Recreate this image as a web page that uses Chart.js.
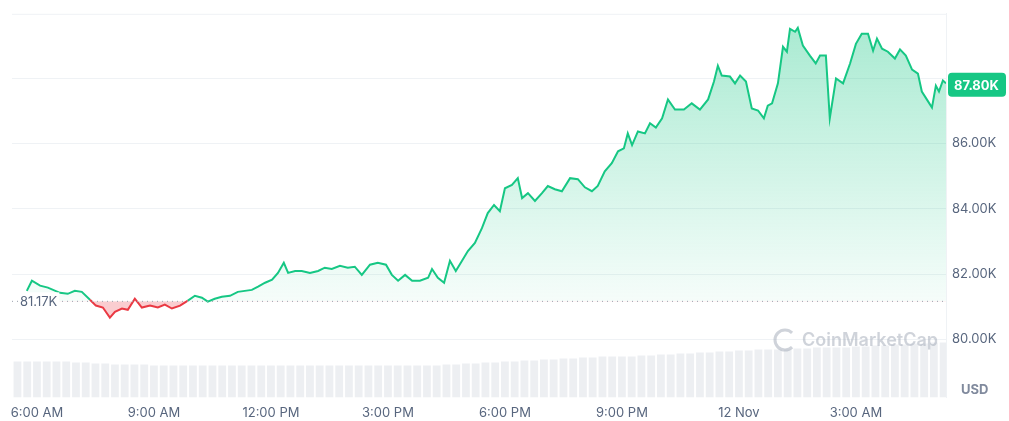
<!DOCTYPE html>
<html>
<head>
<meta charset="utf-8">
<script src="https://cdn.jsdelivr.net/npm/chart.js@4"></script>
<style>
  html, body { margin: 0; padding: 0; background: #fff; }
  #wrap { width: 1009px; height: 421px; position: relative; }
</style>
</head>
<body>
<div id="wrap"><canvas id="chart"></canvas></div>
<script>
// Hours since 6:00 AM
const hours = [-0.26, -0.13, 0.08, 0.28, 0.59, 0.79, 0.97, 1.15, 1.36, 1.51, 1.69, 1.87, 2.00, 2.18, 2.33, 2.51, 2.69, 2.90, 3.10, 3.28,
  3.46, 3.67, 3.87, 4.05, 4.23, 4.38, 4.56, 4.74, 4.95, 5.15, 5.33, 5.51, 5.67, 5.85, 6.03, 6.18, 6.33, 6.44, 6.62, 6.79,
  7.00, 7.21, 7.38, 7.56, 7.77, 7.97, 8.15, 8.33, 8.54, 8.74, 8.95, 9.10, 9.26, 9.44, 9.62, 9.82, 10.03, 10.13, 10.28, 10.44,
  10.59, 10.74, 10.90, 11.05, 11.23, 11.41, 11.56, 11.72, 11.87, 12.00, 12.18, 12.33, 12.44, 12.59, 12.77, 12.95, 13.10, 13.28, 13.46, 13.67,
  13.87, 14.05, 14.23, 14.38, 14.56, 14.74, 14.90, 15.05, 15.15, 15.26, 15.41, 15.59, 15.72, 15.87, 16.03, 16.18, 16.36, 16.59, 16.79, 17.00,
  17.21, 17.36, 17.46, 17.56, 17.77, 17.90, 18.03, 18.18, 18.33, 18.49, 18.64, 18.74, 18.85, 19.00, 19.13, 19.23, 19.31, 19.44, 19.51, 19.64,
  19.82, 19.97, 20.08, 20.23, 20.33, 20.49, 20.67, 20.85, 21.00, 21.15, 21.31, 21.44, 21.54, 21.67, 21.82, 22.00, 22.13, 22.28, 22.44, 22.59,
  22.69, 22.85, 22.95, 23.05, 23.13, 23.23, 23.31]

// Price in thousands USD
const prices = [81.49, 81.80, 81.65, 81.59, 81.43, 81.40, 81.49, 81.46, 81.22, 81.04, 80.98, 80.67, 80.85, 80.95, 80.91, 81.25, 80.98, 81.04, 80.98, 81.07,
  80.95, 81.04, 81.19, 81.34, 81.28, 81.16, 81.25, 81.31, 81.34, 81.46, 81.49, 81.52, 81.62, 81.74, 81.83, 82.04, 82.35, 82.04, 82.10, 82.10,
  82.04, 82.10, 82.20, 82.16, 82.26, 82.20, 82.23, 81.98, 82.29, 82.35, 82.29, 81.98, 81.80, 81.98, 81.80, 81.80, 81.89, 82.16, 81.89, 81.74,
  82.41, 82.10, 82.41, 82.71, 82.96, 83.41, 83.87, 84.12, 83.93, 84.63, 84.73, 84.94, 84.33, 84.48, 84.24, 84.48, 84.70, 84.60, 84.54, 84.94,
  84.91, 84.66, 84.54, 84.70, 85.15, 85.40, 85.76, 85.85, 86.31, 85.95, 86.37, 86.31, 86.62, 86.49, 86.77, 87.35, 87.04, 87.04, 87.23, 87.04,
  87.35, 87.90, 88.38, 88.08, 88.05, 87.84, 88.08, 87.90, 87.07, 87.01, 86.77, 87.16, 87.23, 87.84, 88.96, 88.81, 89.51, 89.42, 89.54, 89.00,
  88.69, 88.45, 88.69, 88.69, 86.77, 87.99, 87.84, 88.45, 89.05, 89.36, 89.36, 88.84, 89.21, 88.90, 88.81, 88.60, 88.88, 88.69, 88.26, 88.14,
  87.59, 87.29, 87.10, 87.77, 87.59, 87.93, 87.84]

// Volume, one bar per quarter hour
const volumeHours = []
for (let h = -0.5; h <= 23.3; h += 0.25) volumeHours.push(+h.toFixed(2))
const volumeLevels = [36, 36, 36, 35, 34, 33, 33, 32, 32, 32, 32, 32, 32, 32, 32, 32, 32, 32, 32, 32, 32,
  32, 33, 34, 35, 36, 37, 38, 39, 40, 41, 41, 42, 43, 44, 45, 46, 47, 48, 48, 49,
  50, 50, 51, 52, 53, 54, 55, 55]
// two quarter-hour bars share each half-hour level
const volumes = volumeHours.map((_, i) => volumeLevels[Math.min(volumeLevels.length - 1, Math.floor(i / 2))])

const baseline = 81.17
const lastPrice = 87.80
const tickLabels = ['6:00 AM', '9:00 AM', '12:00 PM', '3:00 PM', '6:00 PM', '9:00 PM', '12 Nov', '3:00 AM']
const priceTicks = [80, 82, 84, 86, 88]

const green = '#16c784'
const red = '#ea3943'

const pricePoints = hours.map((h, i) => ({ x: h, y: prices[i] }))
const volumePoints = volumeHours.map((h, i) => ({ x: h, y: volumes[i] }))

const extras = {
  id: 'extras',
  afterDatasetsDraw (chart) {
    const { ctx, chartArea, scales } = chart
    const yb = scales.y.getPixelForValue(baseline)
    ctx.save()
    // dotted baseline
    ctx.setLineDash([1, 4])
    ctx.strokeStyle = '#9aa0ad'
    ctx.lineWidth = 1
    ctx.beginPath()
    ctx.moveTo(chartArea.left, yb)
    ctx.lineTo(chartArea.right, yb)
    ctx.stroke()
    ctx.setLineDash([])
    // baseline label
    ctx.font = '13px Inter, "Noto Sans", sans-serif'
    const lbl = baseline.toFixed(2) + 'K'
    const w = ctx.measureText(lbl).width
    ctx.fillStyle = '#fff'
    ctx.fillRect(chartArea.left + 6, yb - 9, w + 4, 18)
    ctx.fillStyle = '#58667e'
    ctx.textBaseline = 'middle'
    ctx.fillText(lbl, chartArea.left + 8, yb + 1)
    // last price badge
    const yl = scales.y.getPixelForValue(lastPrice)
    ctx.fillStyle = green
    ctx.beginPath()
    ctx.roundRect(chartArea.right + 2, yl - 12, 58, 24, 4)
    ctx.fill()
    ctx.fillStyle = '#fff'
    ctx.font = 'bold 13px Inter, "Noto Sans", sans-serif'
    ctx.fillText(lastPrice.toFixed(2) + 'K', chartArea.right + 8, yl + 1)
    // USD
    ctx.fillStyle = '#808a9d'
    ctx.font = 'bold 13px Inter, "Noto Sans", sans-serif'
    ctx.fillText('USD', chartArea.right + 15, chartArea.bottom - 7)
    // watermark
    ctx.fillStyle = 'rgba(160,168,182,0.5)'
    ctx.strokeStyle = 'rgba(160,168,182,0.5)'
    ctx.lineWidth = 3
    ctx.beginPath()
    ctx.arc(785, 340, 10, 0.25 * Math.PI, 1.75 * Math.PI)
    ctx.stroke()
    ctx.font = '600 18px Inter, "Noto Sans", sans-serif'
    ctx.fillText('CoinMarketCap', 802, 341)
    ctx.restore()
  }
}

new Chart(document.getElementById('chart'), {
  data: {
    datasets: [
      {
        type: 'line',
        data: pricePoints,
        yAxisID: 'y',
        borderWidth: 2,
        pointRadius: 0,
        tension: 0,
        borderColor: green,
        segment: {
          borderColor: c => ((c.p0.parsed.y + c.p1.parsed.y) / 2 < baseline ? red : green)
        },
        fill: {
          target: { value: baseline },
          above: (c) => {
            const { ctx, chartArea } = c.chart
            if (!chartArea) return 'rgba(22,199,132,0.2)'
            const g = ctx.createLinearGradient(0, chartArea.top, 0, chartArea.bottom)
            g.addColorStop(0, 'rgba(22,199,132,0.38)')
            g.addColorStop(0.75, 'rgba(22,199,132,0.04)')
            g.addColorStop(1, 'rgba(22,199,132,0)')
            return g
          },
          below: 'rgba(234,57,67,0.25)'
        },
        order: 1
      },
      {
        type: 'bar',
        data: volumePoints,
        yAxisID: 'yv',
        backgroundColor: 'rgba(215,219,226,0.45)',
        barPercentage: 0.8,
        categoryPercentage: 1,
        order: 2
      }
    ]
  },
  options: {
    responsive: true,
    maintainAspectRatio: false,
    animation: false,
    layout: { padding: { left: 12, top: 10, right: 0, bottom: 0 } },
    plugins: { legend: { display: false }, tooltip: { enabled: false } },
    scales: {
      x: {
        type: 'linear',
        offset: false,
        min: -0.64,
        max: 23.31,
        grid: { display: false },
        border: { display: false },
        afterBuildTicks: s => { s.ticks = tickLabels.map((_, i) => ({ value: i * 3 })) },
        ticks: {
          autoSkip: false,
          maxRotation: 0,
          color: '#58667e',
          font: { size: 13, family: 'Inter, "Noto Sans", sans-serif' },
          padding: 0,
          callback: v => tickLabels[v / 3]
        }
      },
      y: {
        position: 'right',
        min: 78.23,
        max: 89.97,
        afterBuildTicks: s => { s.ticks = priceTicks.map(v => ({ value: v })) },
        grid: { color: '#eff2f5', drawTicks: false },
        border: { display: true, color: '#eff2f5' },
        afterFit: s => { s.width = 63 },
        ticks: {
          color: '#58667e',
          padding: 6,
          font: { size: 13, family: 'Inter, "Noto Sans", sans-serif' },
          // the last price badge covers the 88K label
          callback: v => (Math.abs(v - lastPrice) < 0.5 ? '' : v.toFixed(2) + 'K')
        }
      },
      yv: {
        display: false,
        min: 0,
        max: 385
      }
    }
  },
  plugins: [extras, {
    id: 'topBorder',
    beforeDraw (chart) {
      const { ctx, chartArea } = chart
      ctx.save()
      ctx.strokeStyle = '#eff2f5'
      ctx.beginPath()
      ctx.moveTo(chartArea.left, chartArea.top + 0.5)
      ctx.lineTo(chartArea.right, chartArea.top + 0.5)
      ctx.stroke()
      ctx.restore()
    }
  }]
})
</script>
</body>
</html>
